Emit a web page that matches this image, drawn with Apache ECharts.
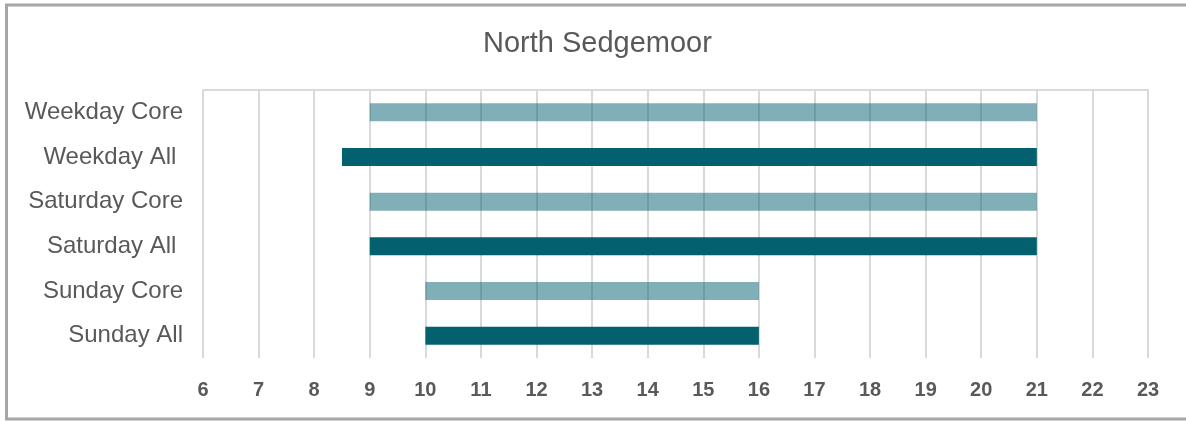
<!DOCTYPE html>
<html>
<head>
<meta charset="utf-8">
<title>North Sedgemoor</title>
<script src="https://cdn.jsdelivr.net/npm/echarts@6/dist/echarts.min.js"></script>
<style>
  html, body { margin: 0; padding: 0; background: #fff; }
  #chart { width: 1186px; height: 421px; }
</style>
</head>
<body>
<div id="chart"></div>
<script>
// opening hours per day type
const categories = ['Weekday Core', 'Weekday All ', 'Saturday Core', 'Saturday All ', 'Sunday Core', 'Sunday All']
const startHours = [9, 8.5, 9, 9, 10, 10]
const endHours = [21, 21, 21, 21, 16, 16]
const kinds = ['core', 'all', 'core', 'all', 'core', 'all']

const colors = {
  core: 'rgba(2, 96, 111, 0.5)',
  all: '#02606f'
}
const textColor = '#595959'

const chart = echarts.init(document.getElementById('chart'))

const option = {
  animation: false,
  title: {
    text: 'North Sedgemoor',
    left: 478,
    top: 24,
    textStyle: {
      fontFamily: 'Liberation Sans',
      fontSize: 29,
      fontWeight: 'normal',
      color: textColor
    }
  },
  graphic: [
    {
      type: 'rect',
      shape: { x: 6.5, y: 5, width: 1200, height: 414 },
      style: { fill: 'none', stroke: '#a6a6a6', lineWidth: 3 },
      silent: true
    }
  ],
  grid: {
    left: 203,
    right: 38,
    top: 90,
    bottom: 63
  },
  xAxis: [
    {
      type: 'value',
      min: 6,
      max: 23,
      interval: 1,
      axisLine: { show: false },
      axisTick: { show: false },
      splitLine: {
        show: true,
        lineStyle: { color: '#d9d9d9', width: 2 }
      },
      axisLabel: {
        margin: 22,
        fontFamily: 'Liberation Sans',
        fontSize: 20,
        fontWeight: 'bold',
        color: textColor
      }
    },
    {
      type: 'value',
      position: 'top',
      min: 6,
      max: 23,
      axisLine: { show: true, lineStyle: { color: '#d9d9d9', width: 2 } },
      axisTick: { show: false },
      axisLabel: { show: false },
      splitLine: { show: false }
    }
  ],
  yAxis: {
    type: 'category',
    inverse: true,
    data: categories,
    axisLine: { show: false },
    axisTick: { show: false },
    axisLabel: {
      margin: 20,
      fontFamily: 'Liberation Sans',
      fontSize: 24,
      color: textColor
    }
  },
  series: [
    {
      // invisible offset up to the opening hour
      name: 'start',
      type: 'bar',
      stack: 'hours',
      barWidth: 18,
      silent: true,
      itemStyle: { color: 'transparent' },
      data: startHours
    },
    {
      name: 'open',
      type: 'bar',
      stack: 'hours',
      barWidth: 18,
      silent: true,
      data: endHours.map((end, i) => ({
        value: end - startHours[i],
        itemStyle: { color: colors[kinds[i]] }
      }))
    }
  ]
}

chart.setOption(option)
</script>
</body>
</html>
